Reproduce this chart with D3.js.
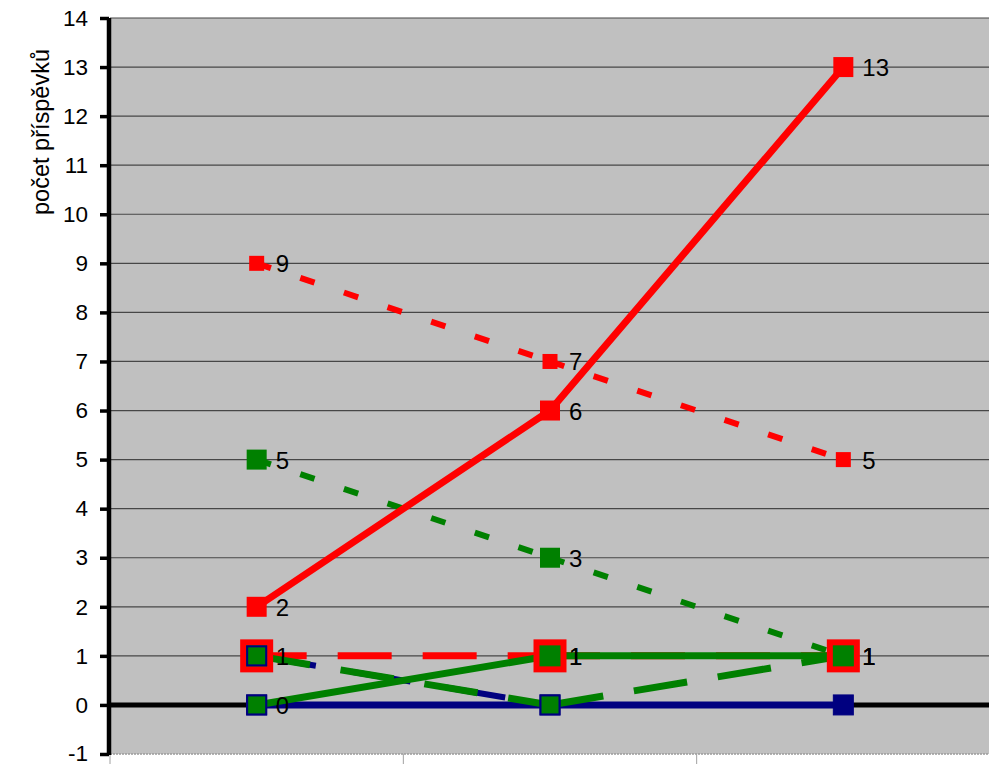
<!DOCTYPE html>
<html>
<head>
<meta charset="utf-8">
<script src="https://cdn.jsdelivr.net/npm/d3@7"></script>
<style>
  html, body { margin: 0; padding: 0; background: #fff; }
  svg { display: block; font-family: Arial, "Liberation Sans", sans-serif; }
</style>
</head>
<body>
<svg id="chart" width="989" height="764"></svg>
<script>
// ---- data ----
const categories = ["1", "2", "3"];
const yTicks = [-1, 0, 1, 2, 3, 4, 5, 6, 7, 8, 9, 10, 11, 12, 13, 14];
const yTitle = "počet příspěvků";

const navySolid  = [0, 0, 0];
const navyDash   = [1, 0, null];
const redLong    = [1, 1, 1];
const greenLong  = [1, 0, 1];
const greenSolid = [0, 1, 1];
const greenShort = [5, 3, 1];
const redShort   = [9, 7, 5];
const redSolid   = [2, 6, 13];

// ---- styles (separate from data) ----
const RED = "#FF0000", GREEN = "#008000", NAVY = "#000080";
const series = [
  { values: navySolid,  color: NAVY,  width: 7, dash: null,    marker: { size: 20, fill: NAVY,  stroke: NAVY, sw: 1 }, label: false },
  { values: navyDash,   color: NAVY,  width: 6, dash: "60,36", marker: { size: 19, fill: GREEN, stroke: NAVY, sw: 2 }, label: false },
  { values: redLong,    color: RED,   width: 7, dash: "54,31", offset: 4, marker: { size: 27, fill: GREEN, stroke: RED, sw: 6 }, label: true },
  { values: greenLong,  color: GREEN, width: 7, dash: "54,31", marker: { size: 20, fill: GREEN, stroke: GREEN, sw: 0 }, label: false },
  { values: greenSolid, color: GREEN, width: 7, dash: null,    marker: { size: 19, fill: GREEN, stroke: NAVY, sw: 2 }, label: true },
  { values: greenShort, color: GREEN, width: 6, dash: "15,31", marker: { size: 20, fill: GREEN, stroke: GREEN, sw: 0 }, label: true },
  { values: redShort,   color: RED,   width: 6, dash: "15,31", marker: { size: 15, fill: RED,   stroke: RED, sw: 0 }, label: true },
  { values: redSolid,   color: RED,   width: 7, dash: null,    marker: { size: 20, fill: RED,   stroke: RED, sw: 0 }, label: true }
];
// marker drawing order (index into series)
const markerOrder = [0, 4, 5, 6, 7, 2, 3, 1];

const svg = d3.select("#chart");
const pLeft = 110, pRight = 990, pTop = 18, pBottom = 754;

const x = d3.scaleBand().domain(categories).range([pLeft, pRight]);
const y = d3.scaleLinear().domain([-1, 14]).range([pBottom, pTop]);
const cx = c => x(c) + x.bandwidth() / 2;

// plot background
svg.append("rect")
  .attr("x", pLeft).attr("y", pTop)
  .attr("width", pRight - pLeft).attr("height", pBottom - pTop)
  .attr("fill", "#C0C0C0");

// gridlines
svg.append("g")
  .selectAll("line")
  .data(yTicks.filter(t => t !== 0 && t !== -1))
  .join("line")
  .attr("x1", pLeft).attr("x2", pRight)
  .attr("y1", d => y(d)).attr("y2", d => y(d))
  .attr("stroke", "#474747").attr("stroke-width", 1.2);

// bottom dotted line
svg.append("line")
  .attr("x1", pLeft).attr("x2", pRight)
  .attr("y1", y(-1)).attr("y2", y(-1))
  .attr("stroke", "#9a9a9a").attr("stroke-width", 1.5)
  .attr("stroke-dasharray", "2,1");

// category ticks at bottom
svg.append("g")
  .selectAll("line")
  .data(categories.concat(["end"]))
  .join("line")
  .attr("x1", (d, i) => pLeft + i * x.bandwidth())
  .attr("x2", (d, i) => pLeft + i * x.bandwidth())
  .attr("y1", y(-1)).attr("y2", 764)
  .attr("stroke", "#a0a0a0").attr("stroke-width", 1);

// zero line
svg.append("line")
  .attr("x1", pLeft).attr("x2", pRight)
  .attr("y1", y(0)).attr("y2", y(0))
  .attr("stroke", "#000").attr("stroke-width", 5);

// y axis
const yAxis = d3.axisLeft(y).tickValues(yTicks).tickSize(9).tickPadding(12)
  .tickFormat(d => String(d));
const gy = svg.append("g").attr("transform", `translate(${pLeft - 1},0)`).call(yAxis);
gy.select(".domain").attr("stroke", "#000").attr("stroke-width", 4.5)
  .attr("d", `M0,${pTop}V${pBottom + 1}`);
gy.selectAll(".tick line").attr("stroke", "#000").attr("stroke-width", 3.5);
gy.selectAll(".tick text").attr("font-size", 22.5).attr("fill", "#000")
  .attr("font-family", "Arial, 'Liberation Sans', sans-serif")
  .attr("dy", d => d === -1 ? "0.28em" : "0.32em");

// y title
svg.append("text")
  .attr("transform", `translate(41,${132}) rotate(-90)`)
  .attr("text-anchor", "middle")
  .attr("dominant-baseline", "central")
  .attr("font-size", 23.5)
  .text(yTitle);

// lines
const line = d3.line().x(d => cx(d.c)).y(d => y(d.v));
const linesG = svg.append("g").attr("fill", "none");
series.forEach(s => {
  const pts = s.values.map((v, i) => ({ c: categories[i], v })).filter(p => p.v !== null);
  if (s.dash) {
    for (let i = 0; i < pts.length - 1; i++) {
      linesG.append("path")
        .attr("d", line([pts[i], pts[i + 1]]))
        .attr("stroke", s.color).attr("stroke-width", s.width)
        .attr("stroke-dasharray", s.dash)
        .attr("stroke-dashoffset", s.offset || 0);
    }
  } else {
    linesG.append("path")
      .attr("d", line(pts))
      .attr("stroke", s.color).attr("stroke-width", s.width)
      .attr("stroke-linejoin", "miter");
  }
});

// markers
const markG = svg.append("g");
markerOrder.forEach(idx => {
  const s = series[idx];
  const m = s.marker;
  const pts = s.values.map((v, i) => ({ c: categories[i], v })).filter(p => p.v !== null);
  markG.selectAll(null).data(pts).join("rect")
    .attr("x", d => cx(d.c) - m.size / 2)
    .attr("y", d => y(d.v) - m.size / 2)
    .attr("width", m.size).attr("height", m.size)
    .attr("fill", m.fill)
    .attr("stroke", m.sw ? m.stroke : "none")
    .attr("stroke-width", m.sw);
});

// data labels
const labG = svg.append("g").attr("font-size", 24).attr("fill", "#000");
series.filter(s => s.label).forEach(s => {
  const pts = s.values.map((v, i) => ({ c: categories[i], v })).filter(p => p.v !== null);
  labG.selectAll(null).data(pts).join("text")
    .attr("x", d => cx(d.c) + 19)
    .attr("y", d => y(d.v) + 9)
    .text(d => d.v);
});
</script>
</body>
</html>
